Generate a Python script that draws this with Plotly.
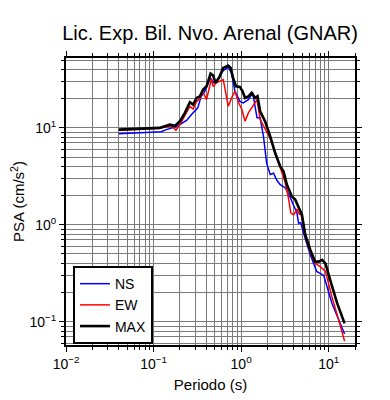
import plotly.graph_objects as go
import numpy as np

# ---- data ----
period_max = [0.040, 0.117, 0.153, 0.175, 0.200, 0.228, 0.260, 0.283, 0.310, 0.338, 0.369, 0.403,
              0.448, 0.480, 0.510, 0.560, 0.625, 0.713, 0.760, 0.810, 0.874, 0.970, 1.04, 1.11,
              1.21, 1.32, 1.45, 1.54, 1.65, 1.88, 2.15, 2.45, 2.80, 3.05, 3.33, 3.80, 4.15, 4.53,
              4.95, 5.40, 6.17, 7.00, 7.70, 8.40, 9.20, 10.4, 12.5, 15.2]
psa_max = [9.6, 10.0, 10.8, 10.5, 11.7, 14.3, 18.4, 17.4, 20.4, 21.2, 24.9, 26.9,
           36.4, 34.7, 29.2, 32.9, 41.7, 44.1, 41.7, 32.9, 26.9, 26.5, 23.9, 20.4,
           21.2, 23.0, 20.4, 21.2, 14.8, 11.7, 8.2, 5.5, 4.0, 3.56, 2.6, 1.96, 1.82, 1.55,
           1.27, 0.79, 0.55, 0.417, 0.417, 0.435, 0.40, 0.27, 0.155, 0.096]

period_ew = [0.040, 0.117, 0.162, 0.180, 0.200, 0.228, 0.260, 0.283, 0.310, 0.338, 0.363, 0.403,
             0.458, 0.480, 0.520, 0.600, 0.625, 0.685, 0.713, 0.780, 0.850, 0.940, 1.02, 1.11,
             1.21, 1.32, 1.45, 1.52, 1.65, 1.80, 2.15, 2.80, 3.20, 3.45, 3.70, 4.00, 4.35, 4.65,
             4.80, 5.40, 6.17, 7.00, 8.00, 9.20, 10.9, 13.0, 15.2]
psa_ew = [9.45, 9.9, 10.5, 9.45, 10.8, 13.2, 16.7, 15.7, 18.8, 19.9, 23.9, 19.6,
          32.0, 26.7, 29.2, 31.0, 31.6, 20.4, 16.7, 20.4, 23.9, 18.1, 15.5, 11.7,
          14.3, 16.1, 18.8, 19.6, 12.2, 10.4, 7.8, 3.9, 2.7, 1.96, 1.32, 1.27, 1.45, 1.27,
          1.35, 0.77, 0.52, 0.40, 0.37, 0.33, 0.18, 0.105, 0.063]

period_ns = [0.040, 0.122, 0.140, 0.175, 0.200, 0.240, 0.270, 0.320, 0.350, 0.385, 0.448, 0.480,
             0.520, 0.625, 0.713, 0.780, 0.850, 0.970, 1.06, 1.21, 1.36, 1.52, 1.65, 1.80,
             1.96, 2.15, 2.35, 2.55, 2.80, 3.20, 3.60, 4.35, 4.53, 4.80, 5.40, 6.17, 7.30,
             8.80, 10.9, 13.0, 15.2]
psa_ns = [8.7, 9.15, 9.6, 10.2, 10.8, 12.0, 13.7, 16.1, 21.2, 23.9, 32.9, 29.2,
          30.2, 39.0, 42.6, 36.4, 23.9, 18.8, 18.1, 19.6, 23.0, 12.7, 12.7, 8.2,
          4.3, 3.3, 3.4, 2.9, 2.6, 2.4, 1.96, 1.32, 1.04, 1.05, 0.72, 0.49, 0.33,
          0.30, 0.155, 0.105, 0.0745]

x_major = [0.01, 0.1, 1, 10]
x_major_text = ["10<sup>−2</sup>", "10<sup>−1</sup>", "10<sup>0</sup>", "10<sup>1</sup>"]
y_major = [0.1, 1, 10]
y_major_text = ["10<sup>−1</sup>", "10<sup>0</sup>", "10<sup>1</sup>"]

x_minor = [m * 10.0 ** e for e in (-2, -1, 0, 1) for m in range(2, 10) if m * 10.0 ** e <= 20]
y_minor = [m * 10.0 ** e for e in (-2, -1, 0, 1) for m in range(2, 10) if 0.057 <= m * 10.0 ** e <= 53]

FONT = "Liberation Sans, Arial, Helvetica, sans-serif"
GRID = "#7a7a7a"

fig = go.Figure()
fig.add_trace(go.Scatter(x=period_ns, y=psa_ns, mode="lines", name="NS",
                         line=dict(color="#0000ff", width=1.5)))
fig.add_trace(go.Scatter(x=period_ew, y=psa_ew, mode="lines", name="EW",
                         line=dict(color="#ff0000", width=1.5)))
fig.add_trace(go.Scatter(x=period_max, y=psa_max, mode="lines", name="MAX",
                         line=dict(color="#000000", width=2.6)))

axis_common = dict(
    type="log", showline=True, linewidth=2, linecolor="black", mirror="ticks",
    ticks="outside", ticklen=5, tickwidth=1, tickcolor="black",
    showgrid=True, gridcolor=GRID, gridwidth=0.8, zeroline=False, automargin=False,
    tickfont=dict(size=14, color="black", family=FONT),
)

fig.update_xaxes(
    **axis_common,
    range=[np.log10(0.01), np.log10(20)],
    tickvals=x_major, ticktext=x_major_text,
    minor=dict(tickvals=x_minor, ticks="outside", ticklen=3, tickcolor="black",
               showgrid=True, gridcolor=GRID, gridwidth=0.8),
    title=dict(text="Periodo (s)", font=dict(size=15, color="black", family=FONT), standoff=9),
)
fig.update_yaxes(
    **axis_common,
    range=[np.log10(0.0574), np.log10(52.7)],
    tickvals=y_major, ticktext=y_major_text,
    minor=dict(tickvals=y_minor, ticks="outside", ticklen=3, tickcolor="black",
               showgrid=True, gridcolor=GRID, gridwidth=0.8),
    title=dict(text="PSA (cm/s<sup>2</sup>)", font=dict(size=15, color="black", family=FONT), standoff=1),
)

fig.update_layout(
    width=390, height=400,
    margin=dict(l=58, r=43, t=50, b=63, autoexpand=False),
    paper_bgcolor="white", plot_bgcolor="white",
    font=dict(family=FONT, color="black"),
    title=dict(text="Lic. Exp. Bil. Nvo. Arenal (GNAR)", x=0.518, xanchor="center",
               y=0.9375, yanchor="middle", font=dict(size=20, color="black", family=FONT)),
    showlegend=True,
    legend=dict(x=0.024, y=0.275, xanchor="left", yanchor="top",
                bgcolor="white", bordercolor="black", borderwidth=2,
                font=dict(size=14, color="black", family=FONT),
                itemwidth=30, tracegroupgap=2),
)

fig.write_html("out.html")
